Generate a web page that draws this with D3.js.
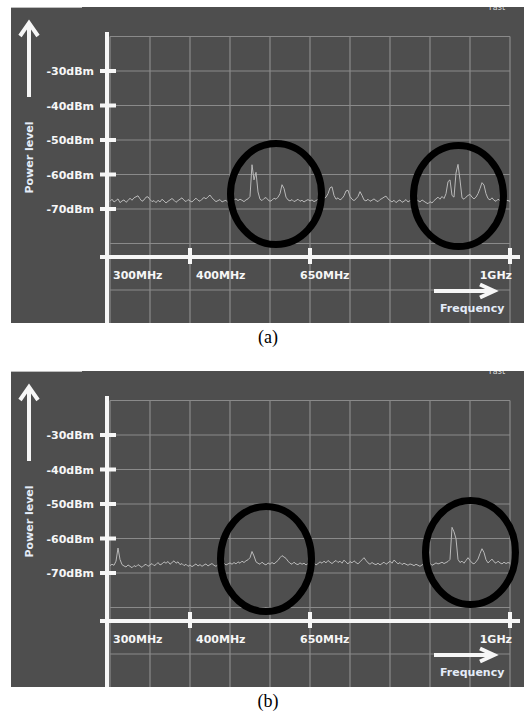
<!DOCTYPE html>
<html>
<head>
<meta charset="utf-8">
<script src="https://cdn.jsdelivr.net/npm/d3@7"></script>
<style>
  html, body { margin: 0; padding: 0; background: #ffffff; }
  svg { display: block; }
</style>
</head>
<body>
<svg id="chart" width="524" height="711"></svg>
<script>
// ---------- data ----------
const freqTicks  = [300, 400, 650, 1000];
const freqLabels = ["300MHz", "400MHz", "650MHz", "1GHz"];
const powerTicks  = [-30, -40, -50, -60, -70];
const powerLabels = ["-30dBm", "-40dBm", "-50dBm", "-60dBm", "-70dBm"];
const gridLevels = [-20, -30, -40, -50, -60, -70, -80];
const panelLabels = ["(a)", "(b)"];

// spectrum trace (a), dBm, equally spaced across the screen
const traceA = [
  -68.2,-67.6,-68.4,-68.0,-67.5,-68.6,-68.1,-67.8,-68.5,-68.0,-67.3,
  -67.9,-67.2,-66.9,-66.6,-67.5,-68.2,-67.8,-67.0,-66.9,-67.7,
  -68.3,-68.0,-68.6,-67.9,-68.4,-67.6,-68.1,-68.7,-68.2,-67.8,
  -67.4,-67.9,-68.5,-68.0,-67.6,-67.2,-67.9,-68.3,-67.7,-68.1,
  -68.4,-67.8,-67.3,-67.9,-68.2,-67.6,-67.1,-67.5,-66.9,-66.4,
  -67.2,-67.8,-68.3,-68.0,-67.7,-68.4,-68.1,-67.9,-68.6,-68.2,
  -68.5,-67.8,-67.5,-68.0,-67.6,-67.9,-68.3,-67.8,-67.5,
  -66.8,-57.6,-62.0,-59.8,-65.5,-67.6,
  -68.0,-67.4,-67.1,-67.8,-68.2,-67.9,-67.3,-67.6,-67.0,-66.0,
  -63.4,-64.5,-67.0,
  -67.8,-68.1,-67.7,-68.3,-68.0,-67.6,-68.2,-67.9,-68.4,-68.0,-67.7,-68.1,
  -67.8,-68.3,-68.0,-67.6,-68.2,-67.9,-67.4,-67.0,-66.0,
  -64.3,-64.0,-66.5,
  -67.6,-67.2,-67.8,-67.4,-66.6,
  -65.2,-65.0,-66.8,
  -67.6,-68.0,-67.5,-66.8,
  -65.4,-66.5,
  -67.8,-68.1,-67.6,-68.2,-67.9,-67.5,-68.0,-68.3,-67.7,-67.4,-67.0,
  -66.7,-67.5,
  -68.0,-68.4,-67.9,-68.6,-68.1,-67.8,-68.5,-68.2,-67.7,-68.4,-68.0,
  -67.9,-68.3,-67.6,-68.0,-68.4,-67.8,-68.2,-68.6,-68.9,-68.3,
  -68.7,-68.0,-67.5,-67.0,-67.6,-66.8,-67.4,-66.0,
  -62.5,-62.0,-66.5,-67.0,-60.0,-57.5,-62.0,-67.2,
  -67.6,-67.0,-66.5,-66.2,-67.0,-67.5,-67.0,-66.0,
  -64.5,-62.8,-63.5,-66.0,
  -67.4,-67.8,-67.2,-67.9,-68.2,-67.6,-68.0,-67.7,-68.1,-67.9,-68.0,-68.2
];

// spectrum trace (b), dBm
const traceB = [
  -68.3,-67.9,-68.2,-67.0,
  -63.2,-66.5,-68.0,
  -68.4,-68.7,-68.1,-68.5,-68.9,-68.3,-68.6,-68.0,-68.4,-68.8,-68.2,-67.9,-68.5,-68.1,
  -67.7,-68.3,-68.0,-67.4,-68.1,-67.8,-67.2,-67.6,-67.1,-67.9,
  -67.4,-66.9,-67.6,-67.2,-68.0,-67.7,-68.3,-67.9,-68.5,-68.1,
  -68.6,-68.2,-67.8,-68.4,-68.0,-68.5,-68.1,-67.8,-68.4,-68.0,
  -67.7,-68.2,-68.5,-68.0,-68.3,-67.9,-67.6,-68.1,-67.8,-67.5,
  -67.9,-67.4,-67.8,-67.2,-67.6,-67.0,-67.4,-66.9,-66.6,-66.0,
  -64.2,-65.5,-67.2,
  -67.6,-67.9,-67.3,-67.8,-68.1,-67.5,-67.9,-67.4,-67.8,-67.3,-66.8,-66.0,
  -65.4,-65.8,-66.2,-67.0,
  -67.6,-67.9,-67.3,-67.8,-68.0,-67.5,-67.9,-67.6,-68.1,-67.7,-67.3,
  -67.9,-67.5,-68.1,-67.7,-67.2,-67.6,-67.0,-67.5,-66.8,-67.3,
  -67.7,-67.2,-66.8,-67.4,-67.0,-67.6,-66.7,-67.3,-67.8,-67.1,-67.5,-66.9,-67.4,-67.8,-67.2,
  -66.6,-66.0,-66.8,-67.5,-67.9,-67.4,-67.8,-68.0,-67.6,-68.1,
  -67.7,-67.3,-67.9,-67.5,-67.0,-67.6,-66.7,-67.2,-67.8,-67.4,-68.0,-67.6,-67.9,-68.2,-67.8,
  -68.0,-68.3,-67.9,-68.2,-68.5,-68.1,-67.8,-68.3,-68.0,-67.6,-68.2,-67.9,-67.5,-67.8,-67.6,
  -67.3,-67.7,-67.4,-67.1,-66.5,
  -57.2,-58.5,-60.5,-66.5,-67.4,
  -67.0,-67.6,-66.8,-66.0,-66.8,-67.5,-67.8,-67.2,
  -66.4,-64.8,-63.4,-64.5,-66.6,
  -67.5,-67.0,-66.4,-67.2,-67.6,-67.0,-67.5,-67.8,-67.3,-67.7,-67.4,-67.6
];

// ---------- layout / style ----------
const W = 524, H = 711;
const panelOffsets = [0, 364];
const BG = "#4e4e4e", GRID = "#8a8a8a", TRACE = "#b9b9b9", WHITE = "#f6f6f6", BLUEWHITE = "#e4ecf8";
const FONT = "'DejaVu Sans', Verdana, sans-serif";

// scales (panel-local coordinates)
const yPow = d3.scaleLinear().domain([-30, -70]).range([71, 209]);
const xFreq = d3.scaleLinear().domain([300, 400, 650, 1000]).range([107, 190, 310, 510]);
const xDiv = d3.scaleLinear().domain([0, 10]).range([110, 510]);

// per-label text placement relative to the tick
const freqLabelDx = [6, 6, -10, 2];
const freqLabelAnchor = ["start", "start", "start", "end"];

// annotation ellipses per panel (screen positions)
const ellipseSets = [
  [{cx: 276, cy: 194, rx: 45.5, ry: 50.5}, {cx: 458.5, cy: 196, rx: 45, ry: 50.5}],
  [{cx: 266, cy: 195, rx: 45.5, ry: 52.5}, {cx: 470.5, cy: 188.5, rx: 45, ry: 52}]
];

const svg = d3.select("#chart");
svg.append("rect").attr("width", W).attr("height", H).attr("fill", "#ffffff");

function drawPanel(idx, trace) {
  const g = svg.append("g").attr("transform", `translate(0,${panelOffsets[idx]})`);
  const clipId = "clip" + idx;
  g.append("clipPath").attr("id", clipId)
    .append("rect").attr("x", 11).attr("y", 7).attr("width", W - 11).attr("height", 316);

  // screen background
  g.append("rect").attr("x", 11).attr("y", 7).attr("width", W - 11).attr("height", 316).attr("fill", BG);
  g.append("line").attr("x1", 11).attr("x2", 82).attr("y1", 7.5).attr("y2", 7.5)
    .attr("stroke", "#bdbdbd").attr("stroke-width", 1);

  const inner = g.append("g").attr("clip-path", `url(#${clipId})`);

  // faint header text of the analyzer screen
  inner.append("text").attr("x", 489).attr("y", 10).attr("font-family", FONT)
    .attr("font-size", 8).attr("fill", "#dcdcdc").text("Fast");

  // grid
  inner.selectAll("line.v").data(d3.range(0, 11)).join("line")
    .attr("x1", d => xDiv(d)).attr("x2", d => xDiv(d))
    .attr("y1", yPow(-20)).attr("y2", 323)
    .attr("stroke", GRID).attr("stroke-width", 1.2);
  inner.selectAll("line.h").data(gridLevels).join("line")
    .attr("x1", xDiv(0)).attr("x2", xDiv(10))
    .attr("y1", d => yPow(d)).attr("y2", d => yPow(d))
    .attr("stroke", GRID).attr("stroke-width", 1.2);
  inner.append("line").attr("x1", xDiv(0)).attr("x2", xDiv(10))
    .attr("y1", 290).attr("y2", 290).attr("stroke", GRID).attr("stroke-width", 1.2);

  // trace
  const xIdx = d3.scaleLinear().domain([0, trace.length - 1]).range([xDiv(0), xDiv(10)]);
  const line = d3.line().x((d, i) => xIdx(i)).y(d => yPow(d) - 1.5);
  inner.append("path").datum(trace).attr("d", line)
    .attr("fill", "none").attr("stroke", TRACE).attr("stroke-width", 1).attr("stroke-linejoin", "round");

  // annotation: y axis
  g.append("line").attr("x1", 107).attr("x2", 107).attr("y1", 32).attr("y2", 323)
    .attr("stroke", WHITE).attr("stroke-width", 4);
  g.selectAll("rect.yt").data(powerTicks).join("rect")
    .attr("x", 100).attr("width", 16).attr("y", d => yPow(d) - 2).attr("height", 4).attr("fill", WHITE);
  g.selectAll("text.yl").data(powerTicks).join("text")
    .attr("x", 94).attr("y", d => yPow(d) + 4).attr("text-anchor", "end")
    .attr("font-family", FONT).attr("font-weight", "bold").attr("font-size", 11)
    .attr("fill", WHITE).text((d, i) => powerLabels[i]);

  // power arrow + label
  g.append("line").attr("x1", 29).attr("x2", 29).attr("y1", 97).attr("y2", 24)
    .attr("stroke", WHITE).attr("stroke-width", 4);
  g.append("polyline").attr("points", "20,36 29,23 38,36").attr("fill", "none")
    .attr("stroke", WHITE).attr("stroke-width", 4).attr("stroke-linejoin", "miter");
  g.append("text").attr("transform", "translate(33,157.5) rotate(-90)")
    .attr("text-anchor", "middle").attr("font-family", FONT).attr("font-weight", "bold")
    .attr("font-size", 11).attr("fill", BLUEWHITE).text("Power level");

  // annotation: x axis
  g.append("line").attr("x1", 100).attr("x2", 520).attr("y1", 257).attr("y2", 257)
    .attr("stroke", WHITE).attr("stroke-width", 4);
  g.selectAll("rect.xt").data(freqTicks.slice(1)).join("rect")
    .attr("x", d => xFreq(d) - 2).attr("width", 4).attr("y", 248).attr("height", 16).attr("fill", WHITE);
  g.selectAll("text.xl").data(freqTicks).join("text")
    .attr("x", (d, i) => xFreq(d) + freqLabelDx[i]).attr("y", 279)
    .attr("text-anchor", (d, i) => freqLabelAnchor[i])
    .attr("font-family", FONT).attr("font-weight", "bold").attr("font-size", 11)
    .attr("fill", WHITE).text((d, i) => freqLabels[i]);

  // frequency arrow + label
  g.append("line").attr("x1", 434).attr("x2", 493).attr("y1", 291).attr("y2", 291)
    .attr("stroke", WHITE).attr("stroke-width", 4);
  g.append("polyline").attr("points", "480,284.5 494,291 480,297.5").attr("fill", "none")
    .attr("stroke", WHITE).attr("stroke-width", 4);
  g.append("text").attr("x", 440).attr("y", 312).attr("font-family", FONT)
    .attr("font-weight", "bold").attr("font-size", 11).attr("fill", BLUEWHITE).text("Frequency");

  // ellipses
  g.selectAll("ellipse").data(ellipseSets[idx]).join("ellipse")
    .attr("cx", d => d.cx).attr("cy", d => d.cy).attr("rx", d => d.rx).attr("ry", d => d.ry)
    .attr("fill", "none").attr("stroke", "#000").attr("stroke-width", 7);

  // caption
  g.append("text").attr("x", 268).attr("y", 343).attr("text-anchor", "middle")
    .attr("font-family", "'Liberation Serif', 'Times New Roman', serif")
    .attr("font-size", 18).attr("fill", "#000").text(panelLabels[idx]);
}

drawPanel(0, traceA);
drawPanel(1, traceB);
</script>
</body>
</html>
